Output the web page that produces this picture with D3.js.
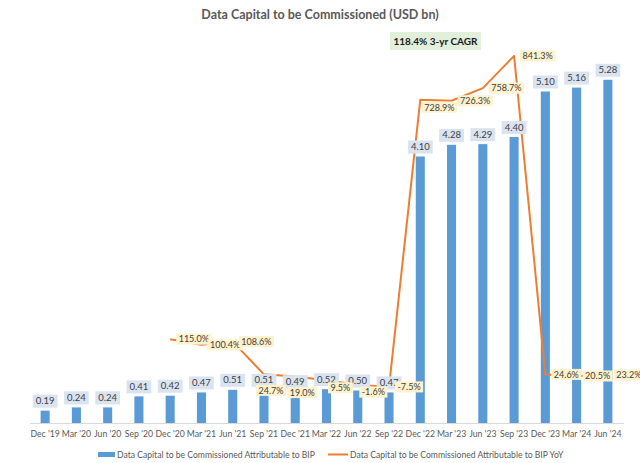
<!DOCTYPE html>
<html>
<head>
<meta charset="utf-8">
<script src="https://cdn.jsdelivr.net/npm/d3@7"></script>
<style>
  html, body { margin: 0; padding: 0; background: #fff; }
  svg { display: block; font-family: Lato, "Liberation Sans", sans-serif; }
</style>
</head>
<body>
<svg id="chart" width="640" height="463"></svg>
<script>
const categories = ["Dec '19","Mar '20","Jun '20","Sep '20","Dec '20","Mar '21","Jun '21","Sep '21","Dec '21","Mar '22","Jun '22","Sep '22","Dec '22","Mar '23","Jun '23","Sep '23","Dec '23","Mar '24","Jun '24"];
const capital = [0.19,0.24,0.24,0.41,0.42,0.47,0.51,0.51,0.49,0.52,0.50,0.47,4.10,4.28,4.29,4.40,5.10,5.16,5.28];
const yoy = [null,null,null,null,115.0,100.4,108.6,24.7,19.0,9.5,-1.6,-7.5,728.9,726.3,758.7,841.3,24.6,20.5,23.2];
const yoyLabelPlacement = [null,null,null,null,"right","right","right","below","below","belowRight","belowRight","right","belowRight","right","right","right","right","right","right"];
const titleText = "Data Capital to be Commissioned (USD bn)";
const cagrText = "118.4% 3-yr CAGR";
const barSeriesName = "Data Capital to be Commissioned Attributable to BIP";
const lineSeriesName = "Data Capital to be Commissioned Attributable to BIP YoY";

const BAR = "#5b9bd5", LINE = "#ed7d31", TXT = "#595959", LBL = "#404040";
const svg = d3.select("#chart");

const x = d3.scaleBand().domain(categories).range([29.5, 623.5]).paddingInner(0.71).paddingOuter(0.355);
const y = d3.scaleLinear().domain([0, 6]).range([423, 33]);
const y2 = d3.scaleLinear().domain([-100, 900]).range([423, 33]);
const cx = c => x(c) + x.bandwidth() / 2;

// title
svg.append("text").attr("x", 320).attr("y", 19).attr("text-anchor", "middle")
  .attr("font-size", 12.5).attr("font-weight", 700).attr("fill", TXT).text(titleText);

// CAGR box
const cg = svg.append("g");
cg.append("rect").attr("x", 390).attr("y", 32).attr("width", 91).attr("height", 18).attr("fill", "#e2efda");
cg.append("text").attr("x", 435.5).attr("y", 44.5).attr("text-anchor", "middle")
  .attr("font-size", 10).attr("font-weight", 700).attr("fill", "#1a1a1a").text(cagrText);

// axis
const ax = svg.append("g").attr("transform", "translate(0,423)")
  .call(d3.axisBottom(x).tickSize(0).tickPadding(8));
ax.select(".domain").attr("stroke", "#d9d9d9").attr("stroke-width", 1);
ax.selectAll("text").attr("font-size", 8.7).attr("fill", TXT).attr("font-family", "Lato, sans-serif");

// bars
svg.append("g").selectAll("rect").data(categories).join("rect")
  .attr("x", c => x(c)).attr("width", x.bandwidth())
  .attr("y", (c, i) => y(capital[i])).attr("height", (c, i) => y(0) - y(capital[i]))
  .attr("fill", BAR);

// line
const pts = categories.map((c, i) => ({c, v: yoy[i], p: yoyLabelPlacement[i]})).filter(d => d.v !== null);
svg.append("path").datum(pts)
  .attr("d", d3.line().x(d => cx(d.c)).y(d => y2(d.v)))
  .attr("fill", "none").attr("stroke", LINE).attr("stroke-width", 2).attr("stroke-linejoin", "round");

// bar labels
const bl = svg.append("g").selectAll("g").data(categories).join("g");
bl.each(function(c, i) {
  const g = d3.select(this);
  const t = g.append("text").attr("font-size", 9.5).attr("fill", LBL).attr("text-anchor", "middle")
    .attr("x", cx(c)).attr("y", y(capital[i]) - 6.5).text(capital[i].toFixed(2));
  const w = t.node().getComputedTextLength() + 6;
  g.insert("rect", "text").attr("x", cx(c) - w / 2).attr("y", y(capital[i]) - 16).attr("width", w).attr("height", 13)
    .attr("fill", "#dae3f0");
});

// line labels
const ll = svg.append("g").selectAll("g").data(pts).join("g");
ll.each(function(d) {
  const g = d3.select(this);
  const px = cx(d.c), py = y2(d.v);
  const t = g.append("text").attr("font-size", 9).attr("fill", LBL).text(d.v.toFixed(1) + "%");
  const w = t.node().getComputedTextLength() + 5, h = 11;
  let left, cy;
  if (d.p === "right") { left = px + 6; cy = py; }
  else if (d.p === "below") { left = px + 7 - w / 2; cy = py + 16; }
  else { left = px + 1.5; cy = py + 7.5; }
  g.insert("rect", "text").attr("x", left).attr("y", cy - h / 2).attr("width", w).attr("height", h).attr("fill", "#fff2cc");
  t.attr("x", left + 2.5).attr("y", cy + 3.3);
});

// legend
const lg = svg.append("g").attr("font-size", 8.6).attr("fill", TXT);
lg.append("rect").attr("x", 98).attr("y", 452).attr("width", 17).attr("height", 5).attr("fill", BAR);
lg.append("text").attr("x", 117).attr("y", 457.5).text(barSeriesName);
lg.append("line").attr("x1", 328).attr("x2", 348).attr("y1", 454.5).attr("y2", 454.5).attr("stroke", LINE).attr("stroke-width", 2);
lg.append("text").attr("x", 350).attr("y", 457.5).text(lineSeriesName);
</script>
</body>
</html>
